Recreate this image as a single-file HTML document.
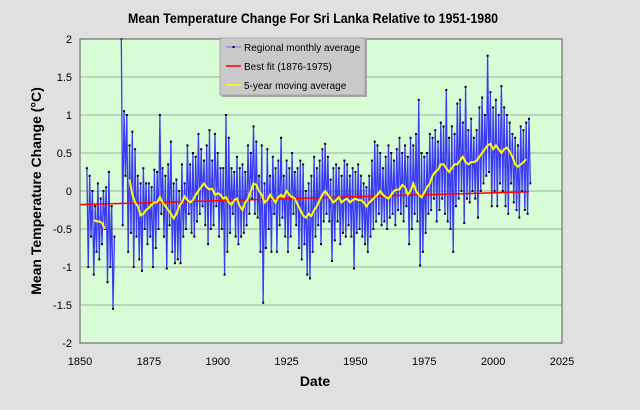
<!DOCTYPE html>
<html><head><meta charset="utf-8"><style>
body{margin:0;background:#e0e0e0;}
svg{display:block;font-family:"Liberation Sans",sans-serif;}
</style></head><body>
<svg id="chart" width="640" height="410">
<rect x="0" y="0" width="640" height="410" fill="#e0e0e0"/>
<text x="313" y="23" font-size="14" font-weight="bold" text-anchor="middle" textLength="370" lengthAdjust="spacingAndGlyphs">Mean Temperature Change For Sri Lanka Relative to 1951-1980</text>
<rect x="80" y="39" width="482" height="304" fill="#d8fdd6"/>
<g id="grid"></g>
<g id="series"></g>
<g id="axes"></g>
<text x="315" y="386" font-size="14" font-weight="bold" text-anchor="middle">Date</text>
<text transform="translate(41,191) rotate(-90)" font-size="14" font-weight="bold" text-anchor="middle">Mean  Temperature  Change  (°C)</text>
<g>
<rect x="222" y="40" width="145" height="57" fill="#a8a8a8"/>
<rect x="220" y="38" width="145" height="57" fill="#c9c9c9" stroke="#9a9a9a" stroke-width="0.8"/>
<g><line x1="226" y1="47" x2="241" y2="47" stroke="#8080ff" stroke-width="1.2"/><rect x="232.5" y="46" width="2" height="2" fill="#000"/><text x="244" y="51" font-size="10">Regional monthly average</text></g>
<g><line x1="226" y1="66" x2="241" y2="66" stroke="#ff0000" stroke-width="1.5"/><text x="244" y="70" font-size="10">Best fit (1876-1975)</text></g>
<g><line x1="226" y1="85" x2="241" y2="85" stroke="#ffff00" stroke-width="1.5"/><text x="244" y="89" font-size="10">5-year moving average</text></g>
</g>
</svg>
<script>
const xTicks=[1850,1875,1900,1925,1950,1975,2000,2025];
const yTicks=[2,1.5,1,0.5,0,-0.5,-1,-1.5,-2];
const seg1Start=1852.5;
const seg1Values=[0.3,-1.0,0.2,-0.6,0.0,-1.1,-0.2,-0.8,0.1,-0.9,-0.1,-0.7,0.0,-0.5,0.05,-1.2,0.25,-1.0,-0.2,-1.55,-0.6];
const seg2Start=1865;
const seg2Values=[2.0,-0.45,1.05,0.2,1.0,-0.8,0.6,-0.55,0.78,-1.0,0.55,-0.6,0.2,-0.9,0.1,-1.05,0.3,-0.5,0.1,-0.7,
0.1,-0.6,0.05,-1.0,0.28,-0.75,0.25,-0.5,1.0,-0.3,0.3,-0.6,0.2,-1.02,0.35,-0.45,0.65,-0.8,0.1,-0.95,
0.15,-0.9,0.0,-0.95,0.35,-0.6,0.1,-0.5,0.6,-0.3,0.35,-0.55,0.5,-0.6,0.45,-0.4,0.75,-0.3,0.55,-0.2,
0.4,-0.45,0.6,-0.7,0.8,-0.5,0.4,-0.45,0.75,-0.2,0.5,-0.6,0.3,-0.5,0.3,-1.1,1.0,-0.8,0.7,-0.55,
0.3,-0.3,0.25,-0.6,0.45,-0.7,0.3,-0.6,0.35,-0.55,0.25,-0.45,0.6,-0.3,0.5,-0.1,0.85,-0.3,0.65,-0.35,
0.2,-0.8,0.6,-1.47,0.1,-0.75,0.55,-0.5,0.2,-0.8,0.45,-0.3,0.3,-0.8,0.4,-0.45,0.7,-0.35,0.2,-0.6,
0.4,-0.8,0.3,-0.6,0.5,-0.3,0.25,-0.45,0.3,-0.75,0.4,-0.9,0.35,-0.7,0.0,-1.1,0.1,-1.15,0.2,-0.8,
0.45,-0.6,0.3,-0.45,0.4,-0.7,0.55,-0.4,0.62,-0.3,0.45,-0.4,0.15,-0.92,0.3,-0.65,0.35,-0.4,0.3,-0.7,
0.2,-0.55,0.4,-0.6,0.35,-0.45,0.2,-0.6,0.3,-1.02,0.25,-0.55,0.35,-0.5,0.2,-0.6,0.1,-0.7,0.05,-0.8,
0.2,-0.6,0.4,-0.5,0.65,-0.4,0.6,-0.3,0.5,-0.45,0.3,-0.4,0.45,-0.5,0.6,-0.35,0.5,-0.3,0.4,-0.45,
0.55,-0.25,0.7,-0.3,0.5,-0.4,0.6,-0.2,0.45,-0.7,0.7,-0.5,0.6,-0.3,0.75,-0.4,1.2,-0.98,0.5,-0.8,
0.45,-0.55,0.5,-0.3,0.75,-0.25,0.7,-0.1,0.8,-0.4,0.65,-0.25,0.9,-0.1,0.85,-0.3,1.33,-0.4,0.7,-0.5,
0.85,-0.8,0.75,-0.2,1.15,-0.1,1.2,0.0,0.9,-0.42,1.37,-0.1,0.8,-0.15,0.95,0.0,0.7,-0.1,0.8,-0.35,
1.1,0.0,1.23,0.1,1.0,0.2,1.78,0.25,1.3,-0.2,1.1,0.0,1.2,-0.2,1.0,0.1,1.38,0.0,1.1,-0.2,
1.0,-0.3,0.9,0.1,0.75,-0.15,0.7,-0.25,0.6,-0.35,0.85,0.0,0.8,-0.25,0.9,-0.3,0.95,0.1];
const ma1Years=[1855,1856,1857,1858,1859];
const ma1Values=[-0.38,-0.4,-0.4,-0.42,-0.5];
const ma2Start=1868;
const ma2Values=[0.15,-0.05,-0.15,-0.2,-0.32,-0.3,-0.25,-0.22,-0.18,-0.15,-0.15,-0.08,-0.15,-0.2,-0.25,-0.3,-0.36,-0.3,-0.2,-0.15,
-0.07,-0.12,-0.15,-0.12,-0.05,0.0,0.05,0.1,0.05,0.02,0.03,-0.05,-0.03,-0.05,-0.1,-0.08,-0.15,-0.18,-0.12,-0.1,
-0.2,-0.25,-0.15,-0.1,0.0,0.1,0.08,0.0,-0.05,-0.15,-0.12,-0.05,-0.1,-0.15,-0.08,-0.05,-0.08,0.0,-0.05,-0.08,
-0.1,-0.18,-0.25,-0.32,-0.35,-0.3,-0.33,-0.25,-0.2,-0.12,-0.05,0.0,-0.05,-0.1,-0.15,-0.12,-0.08,-0.15,-0.12,-0.1,
-0.15,-0.12,-0.1,-0.12,-0.12,-0.15,-0.2,-0.15,-0.12,-0.08,-0.05,0.0,-0.05,-0.08,-0.1,-0.05,0.0,0.02,0.02,0.08,
0.05,-0.05,0.0,0.1,0.0,-0.05,-0.08,-0.02,0.05,0.1,0.2,0.25,0.28,0.35,0.35,0.3,0.25,0.3,0.35,0.35,
0.4,0.45,0.38,0.35,0.38,0.38,0.4,0.45,0.5,0.55,0.6,0.62,0.55,0.6,0.55,0.5,0.55,0.57,0.52,0.45,
0.35,0.32,0.35,0.38,0.42];
const fitYears=[1850,2013];
const fitValues=[-0.18,-0.01];

const NS='http://www.w3.org/2000/svg';
const X0=80,X1=562,Y0=343,Y1=39;
function xs(yr){return X0+(yr-1850)/(2025-1850)*(X1-X0);}
function ys(v){return Y0-(v+2)/4*(Y0-Y1);}
function mk(tag,attrs,parent){const e=document.createElementNS(NS,tag);for(const k in attrs)e.setAttribute(k,attrs[k]);parent.appendChild(e);return e;}
const grid=document.getElementById('grid'),axes=document.getElementById('axes'),series=document.getElementById('series');
yTicks.forEach(v=>{
  if(v>-2&&v<2){const l=mk('line',{x1:X0,x2:X1,y1:ys(v),y2:ys(v),stroke:'#a6a6a6','stroke-width':1},grid);
  
  }
  const t=mk('text',{x:X0-8,y:ys(v)+4,'font-size':11,'text-anchor':'end'},axes);t.textContent=String(v);
  
  
});
xTicks.forEach(yr=>{
  const t=mk('text',{x:xs(yr),y:ys(-2)+22,'font-size':11,'text-anchor':'middle'},axes);t.textContent=String(yr);
  
  
});
const frame=mk('rect',{x:X0,y:Y1,width:X1-X0,height:Y0-Y1,fill:'none',stroke:'#707070','stroke-width':1.2},axes);


function drawSeg(start,vals){
  const pts=vals.map((v,i)=>[xs(start+i*0.5),ys(Math.min(v,2))]);
  const p=mk('polyline',{points:pts.map(p=>p.join(',')).join(' '),fill:'none',stroke:'#3a3af5','stroke-width':1.3},series);
  
  
  pts.forEach(q=>{const r=mk('rect',{x:q[0]-1,y:q[1]-1,width:2,height:2,fill:'#000'},series);
    
    });
}
drawSeg(seg1Start,seg1Values);
drawSeg(seg2Start,seg2Values);
const fit=mk('line',{x1:xs(fitYears[0]),y1:ys(fitValues[0]),x2:xs(fitYears[1]),y2:ys(fitValues[1]),stroke:'#ff0000','stroke-width':1.5},series);


const m1=mk('polyline',{points:ma1Years.map((y,i)=>xs(y)+','+ys(ma1Values[i])).join(' '),fill:'none',stroke:'#ffff00','stroke-width':2},series);


const m2=mk('polyline',{points:ma2Values.map((v,i)=>xs(ma2Start+i)+','+ys(v)).join(' '),fill:'none',stroke:'#ffff00','stroke-width':2},series);


</script>
</body></html>
